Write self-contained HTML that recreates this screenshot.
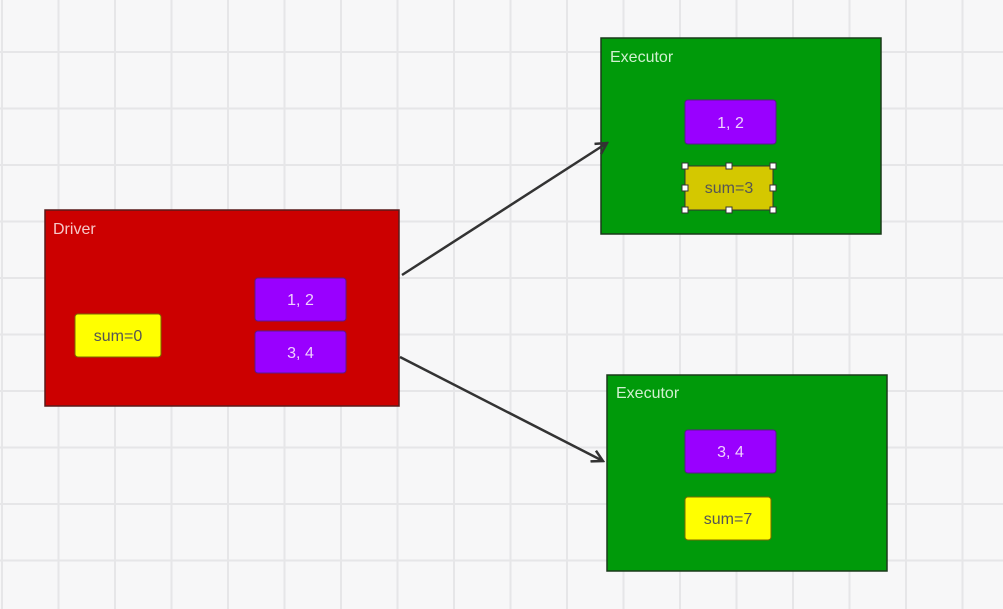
<!DOCTYPE html>
<html><head><meta charset="utf-8"><style>
html,body{margin:0;padding:0;width:1003px;height:609px;overflow:hidden;background:#f7f7f8}
svg{display:block}
text{font-family:"Liberation Sans",sans-serif}
</style></head><body>
<svg width="1003" height="609" viewBox="0 0 1003 609">
<g id="grid"></g>
<defs>
<marker id="ah" markerWidth="14" markerHeight="14" refX="12" refY="7" orient="auto" markerUnits="userSpaceOnUse">
<path d="M1,1 L12,7 L1,13" fill="none" stroke="#333" stroke-width="2.5"/>
</marker>
</defs>
<g>
<rect x="45" y="210" width="354" height="196" fill="#cc0000" stroke="#5a1a1a" stroke-width="1.5"/>
<text x="53" y="234" font-size="16" fill="#f6c8c8">Driver</text>
</g>
<g>
<rect x="255" y="278" width="91" height="43" rx="3" fill="#9900ff" stroke="#5a1a8a" stroke-width="1"/>
<text x="300.5" y="305" font-size="16" fill="#f0d0ff" text-anchor="middle">1, 2</text>
</g>
<g>
<rect x="255" y="331" width="91" height="42" rx="3" fill="#9900ff" stroke="#5a1a8a" stroke-width="1"/>
<text x="300.5" y="358" font-size="16" fill="#f0d0ff" text-anchor="middle">3, 4</text>
</g>
<g>
<rect x="75" y="314" width="86" height="43" rx="3" fill="#ffff00" stroke="#7a6a00" stroke-width="1"/>
<text x="118" y="341" font-size="16" fill="#555" text-anchor="middle">sum=0</text>
</g>
<g>
<rect x="601" y="38" width="280" height="196" fill="#009a0a" stroke="#1a3a1a" stroke-width="1.5"/>
<text x="610" y="62" font-size="16" fill="#d0f0d0">Executor</text>
</g>
<g>
<rect x="685" y="100" width="91" height="44" rx="3" fill="#9900ff" stroke="#5a1a8a" stroke-width="1"/>
<text x="730.5" y="128" font-size="16" fill="#f0d0ff" text-anchor="middle">1, 2</text>
</g>
<g>
<rect x="685" y="166" width="88" height="44" fill="#d4c800" stroke="#333" stroke-width="1"/>
<text x="729" y="193" font-size="16" fill="#555" text-anchor="middle">sum=3</text>
<g fill="#fff" stroke="#333" stroke-width="1">
<rect x="682" y="163" width="6" height="6"/><rect x="726" y="163" width="6" height="6"/><rect x="770" y="163" width="6" height="6"/>
<rect x="682" y="185" width="6" height="6"/><rect x="770" y="185" width="6" height="6"/>
<rect x="682" y="207" width="6" height="6"/><rect x="726" y="207" width="6" height="6"/><rect x="770" y="207" width="6" height="6"/>
</g>
</g>
<g>
<rect x="607" y="375" width="280" height="196" fill="#009a0a" stroke="#1a3a1a" stroke-width="1.5"/>
<text x="616" y="398" font-size="16" fill="#d0f0d0">Executor</text>
</g>
<g>
<rect x="685" y="430" width="91" height="43" rx="3" fill="#9900ff" stroke="#5a1a8a" stroke-width="1"/>
<text x="730.5" y="457" font-size="16" fill="#f0d0ff" text-anchor="middle">3, 4</text>
</g>
<g>
<rect x="685" y="497" width="86" height="43" rx="3" fill="#ffff00" stroke="#7a6a00" stroke-width="1"/>
<text x="728" y="524" font-size="16" fill="#555" text-anchor="middle">sum=7</text>
</g>
<line x1="402" y1="275" x2="607" y2="143" stroke="#333" stroke-width="2.5" marker-end="url(#ah)"/>
<line x1="400" y1="357" x2="603" y2="461" stroke="#333" stroke-width="2.5" marker-end="url(#ah)"/>
</svg>
<script>
var g=document.getElementById('grid');
var ns='http://www.w3.org/2000/svg';
for(var x=2;x<1003;x+=56.5){var l=document.createElementNS(ns,'line');l.setAttribute('x1',x);l.setAttribute('x2',x);l.setAttribute('y1',0);l.setAttribute('y2',609);l.setAttribute('stroke','#e6e6e8');l.setAttribute('stroke-width','2');


g.appendChild(l);}
for(var y=52;y<609;y+=56.5){var l=document.createElementNS(ns,'line');l.setAttribute('y1',y);l.setAttribute('y2',y);l.setAttribute('x1',0);l.setAttribute('x2',1003);l.setAttribute('stroke','#e6e6e8');l.setAttribute('stroke-width','2');


g.appendChild(l);}
</script>
</body></html>
